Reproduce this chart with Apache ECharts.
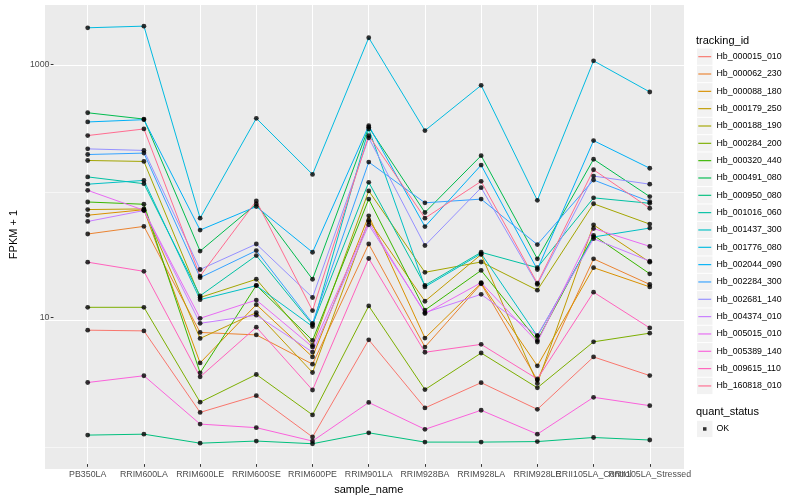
<!DOCTYPE html>
<html><head><meta charset="utf-8">
<script src="https://cdn.jsdelivr.net/npm/echarts@6/dist/echarts.min.js"></script>
<style>html,body{margin:0;padding:0;background:#fff}#c{width:800px;height:500px}</style>
</head><body><div id="c"></div>
<script>
const categories = ['PB350LA','RRIM600LA','RRIM600LE','RRIM600SE','RRIM600PE','RRIM901LA','RRIM928BA','RRIM928LA','RRIM928LE','RRII105LA_Control','RRII105LA_Stressed'];
const trackingIds = ['Hb_000015_010','Hb_000062_230','Hb_000088_180','Hb_000179_250','Hb_000188_190','Hb_000284_200','Hb_000320_440','Hb_000491_080','Hb_000950_080','Hb_001016_060','Hb_001437_300','Hb_001776_080','Hb_002044_090','Hb_002284_300','Hb_002681_140','Hb_004374_010','Hb_005015_010','Hb_005389_140','Hb_009615_110','Hb_160818_010'];
const yTickLabels = [10, 1000];

const Hb_000015_010 = [7.91, 7.81, 1.77, 2.40, 1.13, 6.64, 1.92, 3.04, 1.87, 4.86, 3.46];
const Hb_000062_230 = [45.6, 52.4, 7.59, 7.26, 4.26, 38.0, 5.82, 18.4, 3.19, 29.0, 18.2];
const Hb_000088_180 = [64.2, 71.0, 4.36, 12.6, 4.86, 63.5, 6.85, 18.6, 4.13, 24.7, 17.4];
const Hb_000179_250 = [71.2, 72.0, 6.81, 10.9, 3.66, 58.7, 13.4, 31.4, 3.00, 53.9, 27.3];
const Hb_000188_190 = [174, 171, 14.35, 20.0, 6.00, 100, 22.7, 27.4, 16.4, 79.1, 54.6];
const Hb_000284_200 = [12.0, 12.0, 2.13, 3.53, 1.69, 12.3, 2.68, 5.22, 2.77, 6.40, 7.49];
const Hb_000320_440 = [81.7, 78.4, 3.64, 17.9, 6.57, 86.2, 11.4, 23.5, 6.57, 44.5, 22.1];
const Hb_000491_080 = [415, 370, 33.4, 78.8, 20.0, 319, 67.5, 190, 29.0, 178, 90.1];
const Hb_000950_080 = [1.17, 1.19, 1.01, 1.05, 1.00, 1.22, 1.03, 1.03, 1.04, 1.12, 1.07];
const Hb_001016_060 = [129, 114, 14.8, 30.8, 8.76, 117, 17.9, 32.7, 24.7, 88.1, 79.8];
const Hb_001437_300 = [113, 121, 13.8, 17.8, 8.46, 309, 17.4, 31.9, 7.10, 43.2, 50.8];
const Hb_001776_080 = [1951, 2011, 60.9, 375, 135, 1628, 300, 684, 84.2, 1069, 606];
const Hb_002044_090 = [351, 366, 49.0, 75.2, 32.7, 328, 52.2, 160, 23.9, 250, 151];
const Hb_002284_300 = [194, 199, 20.6, 33.7, 8.97, 169, 80.5, 86.1, 37.6, 122, 82.3];
const Hb_002681_140 = [215, 209, 23.9, 38.0, 14.35, 263, 37.0, 106, 18.2, 131, 113];
const Hb_004374_010 = [57.3, 69.9, 8.97, 10.4, 5.31, 53.9, 10.9, 15.2, 7.19, 41.9, 27.8];
const Hb_005015_010 = [101, 70.3, 9.82, 13.7, 5.82, 56.9, 10.7, 18.8, 6.37, 50.4, 36.4];
const Hb_005389_140 = [3.05, 3.45, 1.43, 1.34, 1.05, 2.12, 1.30, 1.84, 1.19, 2.33, 2.00];
const Hb_009615_110 = [27.3, 23.1, 3.38, 8.35, 2.66, 29.2, 5.29, 6.11, 3.25, 15.8, 8.24];
const Hb_160818_010 = [274, 309, 21.2, 83.2, 11.3, 274, 60.9, 119, 18.6, 147, 72.9];

const seriesValues = [Hb_000015_010, Hb_000062_230, Hb_000088_180, Hb_000179_250, Hb_000188_190, Hb_000284_200, Hb_000320_440, Hb_000491_080, Hb_000950_080, Hb_001016_060, Hb_001437_300, Hb_001776_080, Hb_002044_090, Hb_002284_300, Hb_002681_140, Hb_004374_010, Hb_005015_010, Hb_005389_140, Hb_009615_110, Hb_160818_010];

const palette = ['#F8766D','#EA8331','#D89000','#C09B00','#A3A500','#7CAE00','#39B600','#00BB4E','#00BF7D','#00C1A3','#00BFC4','#00BAE0','#00B0F6','#35A2FF','#9590FF','#C77CFF','#E76BF3','#FA62DB','#FF62BC','#FF6C90'];

const FONT = 'Liberation Sans, Arial, sans-serif';
const chart = echarts.init(document.getElementById('c'), null, {renderer: 'canvas'});

const panel = {left: 45, top: 5, width: 639, height: 463};
const step = panel.width / (categories.length - 1 + 1.2);
const dataLeft = panel.left + 0.6 * step;
const dataWidth = step * (categories.length - 1);
const yMin = 0.69, yMax = 2955;

const lineSeries = trackingIds.map((id, i) => ({
  name: id, type: 'line', xAxisIndex: 1, yAxisIndex: 1,
  data: seriesValues[i], symbol: 'none',
  lineStyle: {color: palette[i], width: 1}, itemStyle: {color: palette[i]},
  z: 2, silent: true
}));
const okPoints = [];
seriesValues.forEach(arr => arr.forEach((v, j) => okPoints.push([j, v])));

const rowH = 17.33;
const legTop = 48;
const lineIcon = 'path://M0,0M13.5,17.33M0.3,8.1L13.2,8.1L13.2,9.25L0.3,9.25Z';
const keyRects = trackingIds.map((_, i) => ({
  type: 'rect', left: 697, top: legTop + i * rowH + 0.5,
  shape: {width: 15.5, height: rowH - 1}, style: {fill: '#F2F2F2'}, silent: true, z: -1
}));
const okTop = 420.3;
keyRects.push({type: 'rect', left: 697, top: okTop + 0.5, shape: {width: 15.5, height: rowH - 1}, style: {fill: '#F2F2F2'}, silent: true, z: -1});

const option = {
  animation: false,
  textStyle: {fontFamily: FONT},
  title: [
    {text: 'tracking_id', left: 696, top: 34.5, padding: 0, textStyle: {fontSize: 11, fontWeight: 'normal', color: '#000', fontFamily: FONT, lineHeight: 12}},
    {text: 'quant_status', left: 696, top: 406, padding: 0, textStyle: {fontSize: 11, fontWeight: 'normal', color: '#000', fontFamily: FONT, lineHeight: 12}}
  ],
  legend: [
    {data: trackingIds.map(id => ({name: id, icon: lineIcon})), orient: 'vertical', left: 698, top: legTop,
     itemWidth: 13.5, itemHeight: rowH, itemGap: 0, padding: 0,
     selectedMode: false, textStyle: {fontSize: 8.8, color: '#000', fontFamily: FONT}},
    {data: [{name: 'OK', icon: 'path://M0,0M13.5,17.33M5.0,6.9L8.5,6.9L8.5,10.4L5.0,10.4Z'}], orient: 'vertical', left: 698, top: okTop,
     itemWidth: 13.5, itemHeight: rowH, itemGap: 0, padding: 0, selectedMode: false,
     textStyle: {fontSize: 8.8, color: '#000', fontFamily: FONT}}
  ],
  graphic: keyRects,
  grid: [
    {left: panel.left, top: panel.top, width: panel.width, height: panel.height, show: true, backgroundColor: '#EBEBEB', borderWidth: 0},
    {left: dataLeft, top: panel.top, width: dataWidth, height: panel.height}
  ],
  xAxis: [
    {gridIndex: 0, type: 'value', min: 0, max: 1, show: false},
    {gridIndex: 1, type: 'category', data: categories, boundaryGap: false,
     axisLine: {show: false},
     axisTick: {show: true, length: 2.75, interval: 0, lineStyle: {color: '#333333', width: 1}},
     axisLabel: {interval: 0, fontSize: 8.8, color: '#4D4D4D', margin: 6, fontFamily: FONT},
     splitLine: {show: true, interval: 0, lineStyle: {color: '#FFFFFF', width: 1.07}},
     name: 'sample_name', nameLocation: 'middle', nameGap: 13,
     nameTextStyle: {fontSize: 11, color: '#000', fontFamily: FONT}}
  ],
  yAxis: [
    {gridIndex: 0, type: 'log', logBase: 10, min: yMin, max: yMax,
     axisLine: {show: false}, axisTick: {show: false}, axisLabel: {show: false},
     splitLine: {show: true, lineStyle: {color: ['#EBEBEB', '#F6F6F6', '#FFFFFF', '#F6F6F6', '#FFFFFF', '#EBEBEB'], width: 1}}},
    {gridIndex: 1, type: 'log', logBase: 10, min: yMin, max: yMax, offset: dataLeft - panel.left,
     axisLine: {show: false},
     axisTick: {show: true, length: 2.75, customValues: yTickLabels, lineStyle: {color: '#333333', width: 1}},
     axisLabel: {customValues: yTickLabels, fontSize: 8.8, color: '#4D4D4D', margin: 4, fontFamily: FONT,
       formatter: v => { const r = Math.round(v); return yTickLabels.indexOf(r) >= 0 && Math.abs(v - r) < 1e-6 * r ? String(r) : ''; }},
     splitLine: {show: false},
     name: 'FPKM + 1', nameLocation: 'middle', nameGap: 27,
     nameTextStyle: {fontSize: 11, color: '#000', fontFamily: FONT}}
  ],
  series: lineSeries.concat([{
    name: 'OK', type: 'scatter', xAxisIndex: 1, yAxisIndex: 1, data: okPoints,
    symbol: 'circle', symbolSize: 4.8, itemStyle: {color: '#000000'}, z: 3, silent: true
  }])
};
chart.setOption(option);
</script></body></html>
